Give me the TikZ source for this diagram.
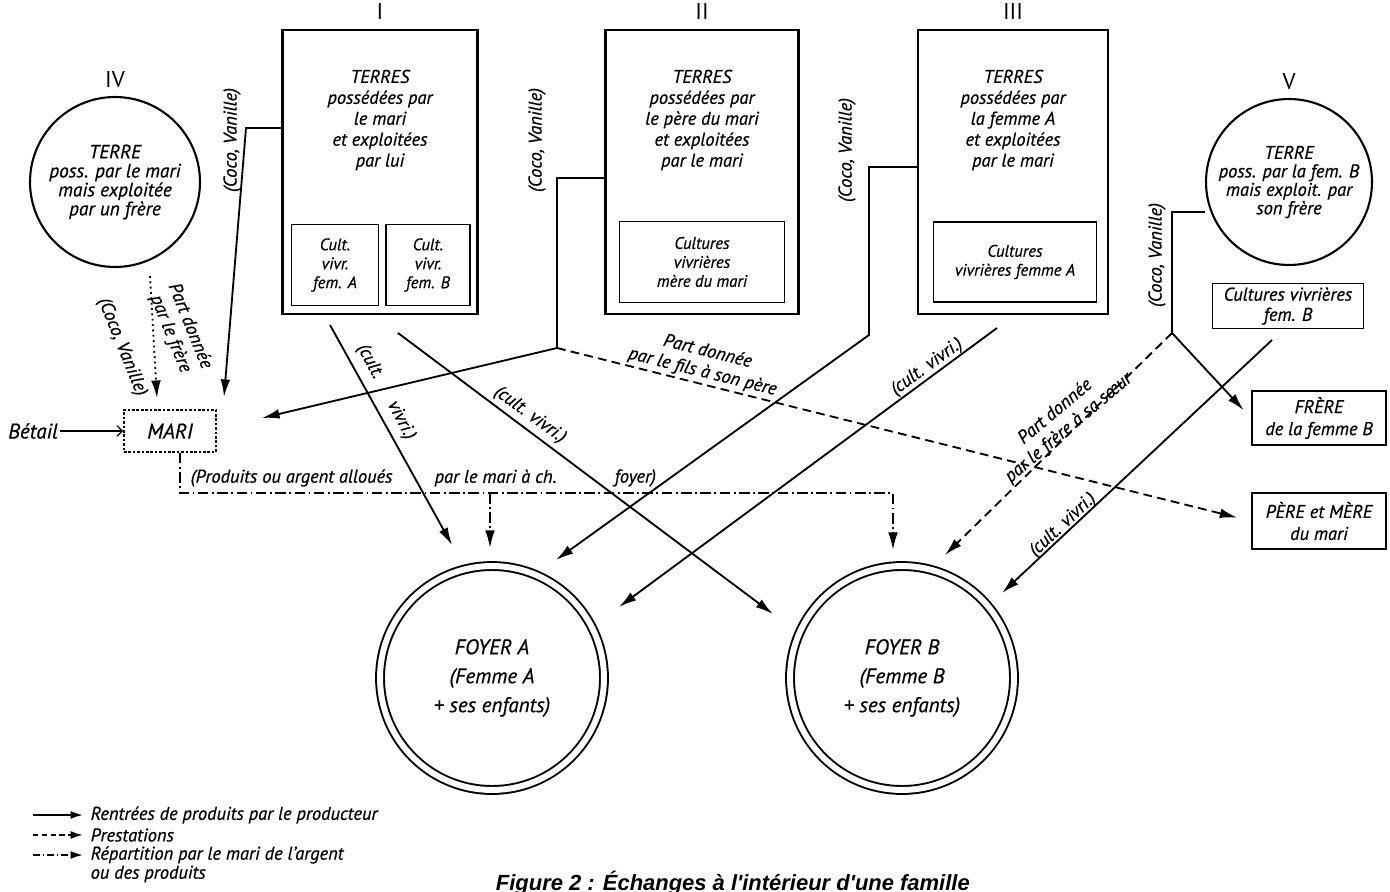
\documentclass[tikz,border=0pt]{standalone}
\usepackage{fontspec}
\setmainfont{PT Sans}[ItalicFeatures={FakeBold=0.6}]
\newfontfamily\figfont{Liberation Sans}
\usetikzlibrary{positioning}
\usetikzlibrary{arrows.meta}

\tikzset{
  terre/.style={draw, line width=1.2pt, minimum width=#1, minimum height=5.68cm, inner sep=0pt},
  culture/.style={draw, line width=1.1pt, align=center, inner sep=0pt, font=\fontsize{9.5}{10.8}\selectfont\itshape},
  txt/.style={align=center, inner sep=1pt, font=\fontsize{10.5}{11.9}\selectfont\itshape},
  petit/.style={align=center, inner sep=1pt, font=\fontsize{11}{10.8}\selectfont\itshape},
  chiffre/.style={inner sep=1pt, font=\fontsize{13}{15}\selectfont},
  parcelle/.style={draw, circle, line width=1.2pt, minimum size=#1, inner sep=0pt},
  foyer/.style={draw, circle, double, double distance=3.4pt, line width=1.1pt, minimum size=4.48cm, inner sep=0pt, align=center, font=\fontsize{12}{16.5}\selectfont\itshape},
  rentree/.style={-{Latex[length=10pt,width=5.5pt]}},
  prestation/.style={-{Latex[length=10pt,width=5.5pt]}, dash pattern=on 5pt off 3pt},
  repartition/.style={-{Latex[length=10pt,width=5.5pt]}, dash pattern=on 6pt off 2pt on 1pt off 2pt},
  legende/.style={anchor=west, inner sep=1pt, font=\fontsize{10.5}{11}\selectfont\itshape},
}

\begin{document}
\begin{tikzpicture}[x=0.02cm, y=-0.02cm, line width=1.05pt]
  \useasboundingbox (0,0) rectangle (1390,892);

  % les trois terres
  \node[terre=3.9cm] (boxI) at (380,172) {};
  \node[terre=3.86cm] (boxII) at (702,172) {};
  \node[terre=3.8cm] (boxIII) at (1013,172) {};
  \node[chiffre, above=4pt of boxI] (numI) {I};
  \node[chiffre, above=4pt of boxII] (numII) {II};
  \node[chiffre, above=4pt of boxIII] (numIII) {III};

  \node[txt] (descI) at (380,120) {TERRES\\possédées par\\le mari\\et exploitées\\par lui};
  \node[txt] (descII) at (702,120) {TERRES\\possédées par\\le père du mari\\et exploitées\\par le mari};
  \node[txt] (descIII) at (1013,120) {TERRES\\possédées par\\la femme A\\et exploitées\\par le mari};

  \node[culture, minimum width=1.74cm, minimum height=1.62cm] (cultIA) at (335,265) {Cult.\\vivr.\\fem. A};
  \node[culture, minimum width=1.68cm, minimum height=1.62cm] (cultIB) at (428,265) {Cult.\\vivr.\\fem. B};
  \node[culture, minimum width=3.3cm, minimum height=1.62cm] (cultII) at (702,262) {Cultures\\vivrières\\mère du mari};
  \node[culture, minimum width=3.26cm, minimum height=1.6cm] (cultIII) at (1015,262) {Cultures\\vivrières femme A};

  % les deux terres rondes
  \node[parcelle=3.4cm] (terreIV) at (115,182) {};
  \node[petit] (descIV) at (terreIV) {TERRE\\poss. par le mari\\mais exploitée\\par un frère};
  \node[chiffre, above=3pt of terreIV] (numIV) {IV};
  \node[parcelle=3.32cm] (terreV) at (1289,182) {};
  \node[petit, font=\fontsize{10.5}{10.5}\selectfont\itshape] (descV) at (terreV) {TERRE\\poss. par la fem. B\\mais exploit. par\\son frère};
  \node[chiffre, above=3pt of terreV] (numV) {V};
  \node[culture, minimum width=3.02cm, minimum height=0.9cm, font=\fontsize{10.5}{11.5}\selectfont\itshape] (cultV) at (1288,306) {Cultures vivrières\\fem. B};

  % personnes
  \node[draw, dash pattern=on 1.5pt off 1pt, minimum width=1.84cm, minimum height=0.84cm, font=\fontsize{12}{14}\selectfont\itshape] (mari) at (170,431) {MARI};
  \node[font=\fontsize{12}{14}\selectfont\itshape, inner sep=1pt] (betail) at (33,431) {Bétail};
  \node[draw, line width=1.2pt, align=center, minimum width=2.68cm, minimum height=1.08cm, inner sep=1pt, font=\fontsize{10.5}{12.5}\selectfont\itshape] (frere) at (1319,418) {FRÈRE\\de la femme B};
  \node[draw, line width=1.2pt, align=center, minimum width=2.68cm, minimum height=1.12cm, inner sep=1pt, font=\fontsize{10.5}{12.5}\selectfont\itshape] (pere) at (1319,521) {PÈRE et MÈRE\\du mari};
  \node[foyer] (foyerA) at (492,678) {FOYER A\\(Femme A\\+ ses enfants)};
  \node[foyer] (foyerB) at (902,678) {FOYER B\\(Femme B\\+ ses enfants)};

  % points de passage
  \coordinate (coinI) at (246,128);
  \coordinate (pI) at (224,397);
  \coordinate (dIV) at (150,276);
  \coordinate (pIV) at (157,398);
  \coordinate (coinII) at (557,178);
  \coordinate (jonctII) at (557,348);
  \coordinate (pII) at (262,418);
  \coordinate (coinIII) at (869,167);
  \coordinate (jonctIII) at (869,335);
  \coordinate (pIII) at (556,560);
  \coordinate (coinV) at (1172,212);
  \coordinate (jonctV) at (1172,333);
  \coordinate (dIA) at (330,325);
  \coordinate (pIA) at (452,545);
  \coordinate (dIB) at (398,333);
  \coordinate (pIB) at (773,614);
  \coordinate (dIII) at (997,328);
  \coordinate (pIIIv) at (619,607);
  \coordinate (dV) at (1272,340);
  \coordinate (pV) at (1002,593);
  \coordinate (pSoeur) at (945,555);
  \coordinate (brancheA) at (490,493);
  \coordinate (pRepA) at (490,548);
  \coordinate (coudeB) at (893,493);
  \coordinate (pRepB) at (893,550);

  % rentrees de produits
  \draw[rentree] (boxI.west |- coinI) -- (coinI) -- (pI);
  \draw[rentree] (boxII.west |- coinII) -- (coinII) -- (jonctII) -- (pII);
  \draw[rentree] (boxIII.west |- coinIII) -- (coinIII) -- (jonctIII) -- (pIII);
  \draw[rentree] (terreV.west |- coinV) -- (coinV) -- (jonctV) -- (frere.west) [shorten >=6pt];
  \draw[rentree] (dIA) -- (pIA);
  \draw[rentree] (dIB) -- (pIB);
  \draw[rentree] (dIII) -- (pIIIv);
  \draw[rentree] (dV) -- (pV);
  \draw[-{Latex[length=10pt,width=5.5pt]}, dotted] (dIV) -- (pIV);
  \draw[-{Straight Barb[length=3pt,width=6pt]}, line width=0.7pt] (betail) -- (mari);

  % prestations
  \draw[prestation, shorten >=8pt] (jonctII) -- (pere.west);
  \draw[prestation] (jonctV) -- (pSoeur);

  % repartition par le mari
  \draw[repartition] ([xshift=0.2cm]mari.south) |- (coudeB) -- (pRepB);
  \draw[repartition] (brancheA) -- (pRepA);

  % etiquettes
  \node[txt, rotate=90] (cvI) at (232,140) {(Coco, Vanille)};
  \node[txt, rotate=90] (cvII) at (537,140) {(Coco, Vanille)};
  \node[txt, rotate=90] (cvIII) at (847,150) {(Coco, Vanille)};
  \node[txt, rotate=90] (cvV) at (1157,255) {(Coco, Vanille)};
  \node[txt, rotate=-68] (cvIV) at (122,347) {(Coco, Vanille)};
  \node[txt, rotate=-68] (partFrere) at (180,330) {Part donnée\\par le frère};
  \node[txt, rotate=-14] (partFils) at (705,362) {Part donnée\\par le fils à son père};
  \node[txt, rotate=40] (partSoeur) at (1062,420) {Part donnée\\par le frère à sa sœur};
  \node[txt, rotate=-62] (cvivIA) at (386,392) {(cult.\hspace{16pt}vivri.)};
  \node[txt, rotate=-36] (cvivIB) at (530,415) {(cult. vivri.)};
  \node[txt, rotate=36] (cvivIII) at (927,367) {(cult. vivri.)};
  \node[txt, rotate=43] (cvivV) at (1063,525) {(cult. vivri.)};
  \node[txt, anchor=west] (alloc1) at (188,478) {(Produits ou argent alloués};
  \node[txt, anchor=west] (alloc2) at (432,478) {par le mari à ch.};
  \node[txt, anchor=west] (alloc3) at (612,478) {foyer)};

  % legende
  \node[legende] (legR) at (88,815) {Rentrées de produits par le producteur};
  \node[legende] (legP) at (88,835) {Prestations};
  \node[legende] (legRep) at (88,855) {Répartition par le mari de l'argent};
  \node[legende] (legRep2) at (88,874) {ou des produits};
  \draw[-{Latex[length=7pt,width=4.5pt]}] ([xshift=-1.1cm]legR.west) -- ([xshift=-0.1cm]legR.west);
  \draw[-{Latex[length=7pt,width=4.5pt]}, dash pattern=on 3pt off 2pt] ([xshift=-1.1cm]legP.west) -- ([xshift=-0.1cm]legP.west);
  \draw[-{Latex[length=7pt,width=4.5pt]}, dash pattern=on 4pt off 1.5pt on 1pt off 1.5pt] ([xshift=-1.1cm]legRep.west) -- ([xshift=-0.1cm]legRep.west);

  \node[anchor=base west, inner sep=0pt, font=\figfont\fontsize{12.5}{14}\selectfont\bfseries\itshape] (titre) at (495,890) {Figure 2 : Échanges à l'intérieur d'une famille};
\end{tikzpicture}
\end{document}
